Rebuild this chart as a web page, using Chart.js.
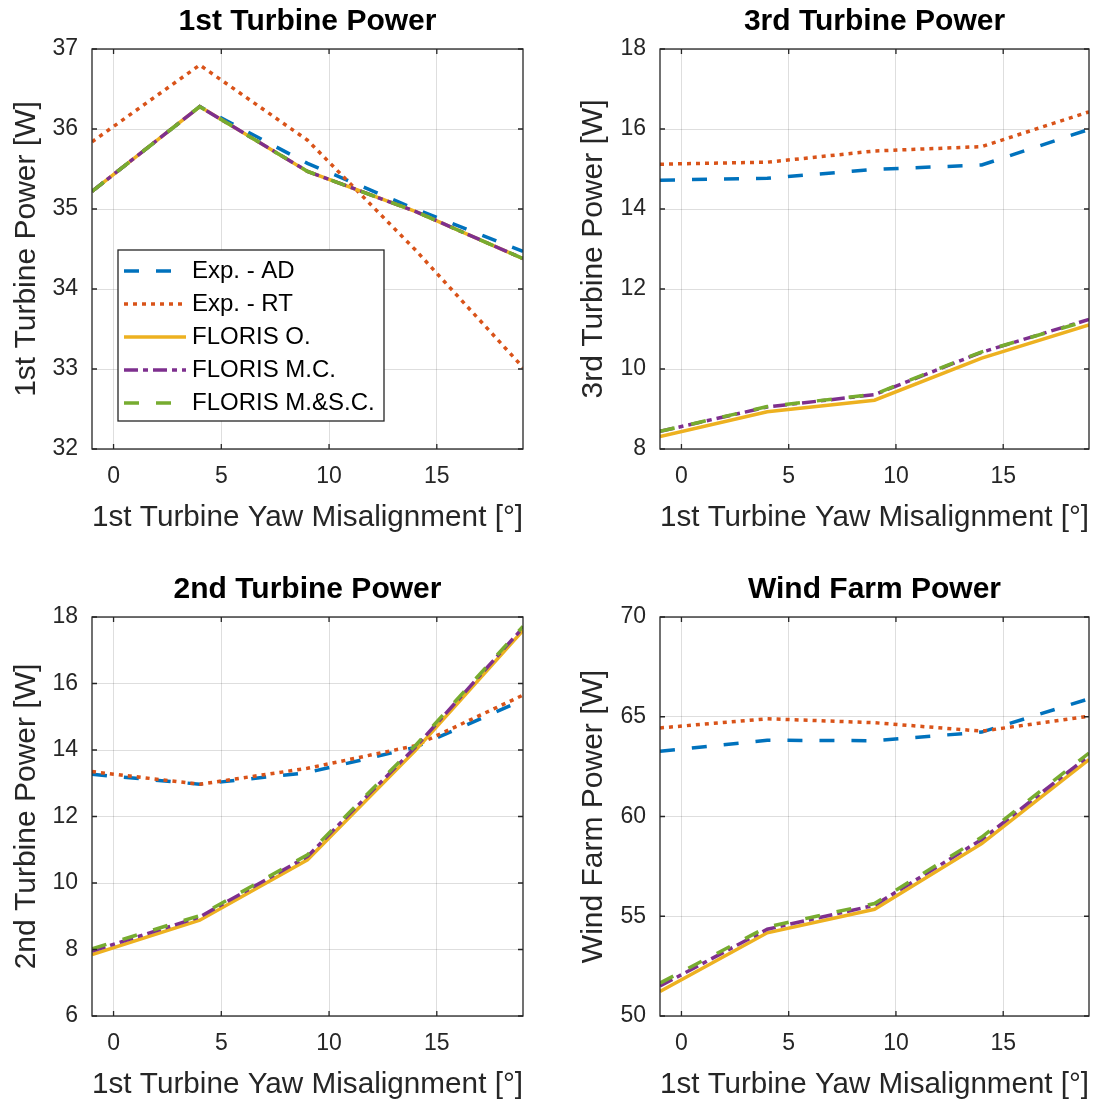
<!DOCTYPE html>
<html>
<head>
<meta charset="utf-8">
<title>Turbine power vs yaw misalignment</title>
<script src="https://cdn.jsdelivr.net/npm/chart.js@4.4.1/dist/chart.umd.min.js"></script>
<style>
  html, body { margin: 0; padding: 0; background: #fff; }
  #wrap { position: relative; width: 1099px; height: 1104px; }
  canvas { position: absolute; }
</style>
</head>
<body>
<div id="wrap">
  <canvas id="t1" width="549" height="552" style="left:0px;top:0px"></canvas>
  <canvas id="t3" width="550" height="552" style="left:549px;top:0px"></canvas>
  <canvas id="t2" width="549" height="552" style="left:0px;top:552px"></canvas>
  <canvas id="wf" width="550" height="552" style="left:549px;top:552px"></canvas>
</div>
<script>
// yaw angles of the first turbine [deg]
const xYaw = [-1, 4, 9, 14, 19];
const xTicks = [0, 5, 10, 15];

const seriesNames = ['Exp. - AD', 'Exp. - RT', 'FLORIS O.', 'FLORIS M.C.', 'FLORIS M.&S.C.'];

// 1st turbine power [W]
const t1ExpAD     = [35.22, 36.28, 35.57, 35.00, 34.47];
const t1ExpRT     = [35.84, 36.80, 35.86, 34.49, 33.02];
const t1FlorisO   = [35.22, 36.28, 35.47, 34.97, 34.38];
const t1FlorisMC  = [35.22, 36.28, 35.47, 34.97, 34.38];
const t1FlorisMSC = [35.22, 36.28, 35.47, 34.97, 34.38];
const t1Ticks = [32, 33, 34, 35, 36, 37];

// 3rd turbine power [W]
const t3ExpAD     = [14.72, 14.77, 14.99, 15.10, 15.99];
const t3ExpRT     = [15.12, 15.17, 15.45, 15.56, 16.43];
const t3FlorisO   = [8.31, 8.93, 9.22, 10.27, 11.10];
const t3FlorisMC  = [8.44, 9.05, 9.36, 10.42, 11.24];
const t3FlorisMSC = [8.44, 9.06, 9.37, 10.43, 11.22];
const t3Ticks = [8, 10, 12, 14, 16, 18];

// 2nd turbine power [W]
const t2ExpAD     = [13.27, 12.97, 13.32, 14.08, 15.50];
const t2ExpRT     = [13.35, 12.97, 13.45, 14.13, 15.65];
const t2FlorisO   = [7.85, 8.88, 10.70, 13.98, 17.60];
const t2FlorisMC  = [7.95, 8.98, 10.80, 14.08, 17.68];
const t2FlorisMSC = [8.02, 9.02, 10.85, 14.13, 17.72];
const t2Ticks = [6, 8, 10, 12, 14, 16, 18];

// total wind farm power [W]
const wfExpAD     = [63.27, 63.82, 63.80, 64.23, 65.90];
const wfExpRT     = [64.44, 64.90, 64.70, 64.28, 65.03];
const wfFlorisO   = [51.23, 54.17, 55.35, 58.64, 62.85];
const wfFlorisMC  = [51.50, 54.35, 55.55, 58.85, 63.05];
const wfFlorisMSC = [51.65, 54.46, 55.64, 58.97, 63.18];
const wfTicks = [50, 55, 60, 65, 70];

// matlab default line colours and styles
const seriesColors = ['#0072BD', '#D95319', '#EDB120', '#7E2F8E', '#77AC30'];
const seriesDash = [[15, 17], [4, 5], [], [14, 5, 5, 5], [15, 17]];

Chart.defaults.font.family = "'Liberation Sans', Arial, Helvetica, sans-serif";
Chart.defaults.color = '#262626';

// dark frame round the axes with short inward ticks
const axesBox = {
  id: 'axesBox',
  afterDatasetsDraw(chart) {
    const { ctx, chartArea: a, scales: { x, y } } = chart;
    const tl = 5;
    ctx.save();
    ctx.strokeStyle = '#262626';
    ctx.lineWidth = 1.3;
    ctx.beginPath();
    x.ticks.forEach(t => {
      const px = x.getPixelForValue(t.value);
      ctx.moveTo(px, a.bottom); ctx.lineTo(px, a.bottom - tl);
      ctx.moveTo(px, a.top); ctx.lineTo(px, a.top + tl);
    });
    y.ticks.forEach(t => {
      const py = y.getPixelForValue(t.value);
      ctx.moveTo(a.left, py); ctx.lineTo(a.left + tl, py);
      ctx.moveTo(a.right, py); ctx.lineTo(a.right - tl, py);
    });
    ctx.stroke();
    ctx.strokeRect(a.left, a.top, a.right - a.left, a.bottom - a.top);
    ctx.restore();
  }
};

// boxed legend inside the first panel
const insetLegend = {
  id: 'insetLegend',
  afterDraw(chart) {
    const { ctx, chartArea: a } = chart;
    const left = a.left + 26, top = a.top + 201, w = 266, h = 171;
    ctx.save();
    ctx.fillStyle = '#fff';
    ctx.fillRect(left, top, w, h);
    ctx.strokeStyle = '#262626';
    ctx.lineWidth = 1.3;
    ctx.strokeRect(left, top, w, h);
    chart.data.datasets.forEach((ds, i) => {
      const cy = top + 21 + i * 33;
      ctx.beginPath();
      ctx.setLineDash(ds.borderDash);
      ctx.strokeStyle = ds.borderColor;
      ctx.lineWidth = ds.borderWidth;
      ctx.lineCap = 'butt';
      ctx.moveTo(left + 6, cy);
      ctx.lineTo(left + 68, cy);
      ctx.stroke();
      ctx.setLineDash([]);
      ctx.fillStyle = '#000';
      ctx.font = "24px 'Liberation Sans', Arial, sans-serif";
      ctx.textBaseline = 'middle';
      ctx.textAlign = 'left';
      ctx.fillText(ds.label, left + 74, cy);
    });
    ctx.restore();
  }
};

function makeChart(id, p) {
  // later series are drawn on top, as in the plotting order
  const datasets = seriesNames.map((name, i) => ({
    label: name,
    data: xYaw.map((x, k) => ({ x: x, y: p.series[i][k] })),
    order: seriesNames.length - i,
    borderColor: seriesColors[i],
    borderDash: seriesDash[i],
    borderWidth: 3.5,
    borderCapStyle: 'butt',
    pointRadius: 0,
    tension: 0,
    fill: false
  }));
  const gridOpts = { color: 'rgba(0,0,0,0.13)', lineWidth: 1, drawTicks: false };
  return new Chart(document.getElementById(id), {
    type: 'line',
    data: { datasets: datasets },
    options: {
      responsive: false,
      animation: false,
      layout: { padding: { left: 0, right: p.padRight, top: 0, bottom: 0 } },
      plugins: {
        legend: { display: false },
        tooltip: { enabled: false },
        title: {
          display: true,
          text: p.title,
          fullSize: false,
          color: '#000',
          font: { size: 30, weight: 'bold' },
          padding: { top: p.titleTop, bottom: 9 }
        }
      },
      scales: {
        x: {
          type: 'linear',
          min: -1,
          max: 19,
          afterBuildTicks: s => { s.ticks = xTicks.map(v => ({ value: v })); },
          afterFit: s => { s.height = p.xAxisHeight; },
          grid: gridOpts,
          border: { display: false },
          ticks: { font: { size: 23 }, padding: 14, maxRotation: 0, autoSkip: false },
          title: {
            display: true,
            text: '1st Turbine Yaw Misalignment [°]',
            font: { size: 30 },
            padding: { top: 0, bottom: p.xTitlePad }
          }
        },
        y: {
          type: 'linear',
          min: p.yTicks[0],
          max: p.yTicks[p.yTicks.length - 1],
          afterBuildTicks: s => { s.ticks = p.yTicks.map(v => ({ value: v })); },
          afterFit: s => { s.width = p.yAxisWidth; },
          grid: gridOpts,
          border: { display: false },
          ticks: { font: { size: 23 }, padding: 14, autoSkip: false },
          title: {
            display: true,
            text: p.yLabel,
            font: { size: 30 },
            padding: { top: p.yTitlePad, bottom: 0 }
          }
        }
      }
    },
    plugins: p.legend ? [axesBox, insetLegend] : [axesBox]
  });
}

makeChart('t1', {
  title: '1st Turbine Power', yLabel: '1st Turbine Power [W]',
  series: [t1ExpAD, t1ExpRT, t1FlorisO, t1FlorisMC, t1FlorisMSC], yTicks: t1Ticks,
  padRight: 26, titleTop: 4, xAxisHeight: 103, xTitlePad: 16, yAxisWidth: 92, yTitlePad: 9,
  legend: true
});
makeChart('t3', {
  title: '3rd Turbine Power', yLabel: '3rd Turbine Power [W]',
  series: [t3ExpAD, t3ExpRT, t3FlorisO, t3FlorisMC, t3FlorisMSC], yTicks: t3Ticks,
  padRight: 10, titleTop: 4, xAxisHeight: 103, xTitlePad: 16, yAxisWidth: 111, yTitlePad: 27
});
makeChart('t2', {
  title: '2nd Turbine Power', yLabel: '2nd Turbine Power [W]',
  series: [t2ExpAD, t2ExpRT, t2FlorisO, t2FlorisMC, t2FlorisMSC], yTicks: t2Ticks,
  padRight: 26, titleTop: 20, xAxisHeight: 88, xTitlePad: 1, yAxisWidth: 92, yTitlePad: 9
});
makeChart('wf', {
  title: 'Wind Farm Power', yLabel: 'Wind Farm Power [W]',
  series: [wfExpAD, wfExpRT, wfFlorisO, wfFlorisMC, wfFlorisMSC], yTicks: wfTicks,
  padRight: 10, titleTop: 20, xAxisHeight: 88, xTitlePad: 1, yAxisWidth: 111, yTitlePad: 27
});
</script>
</body>
</html>
